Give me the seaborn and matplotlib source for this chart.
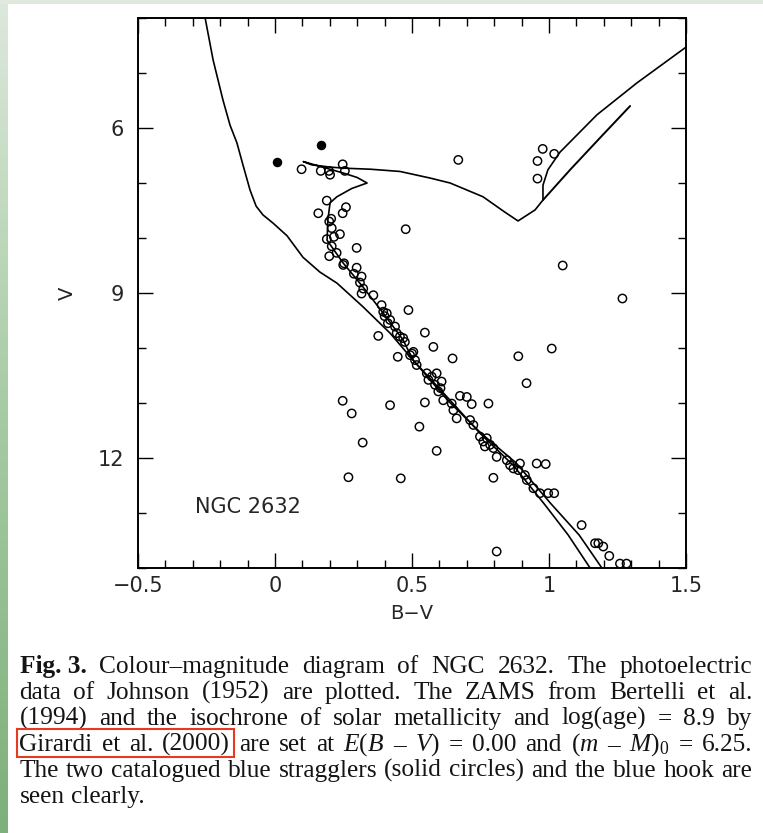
import numpy as np
import pandas as pd
import matplotlib
matplotlib.use("Agg")
import matplotlib.pyplot as plt
import seaborn as sns
from matplotlib.ticker import MultipleLocator, FixedLocator, FixedFormatter
from matplotlib.patches import Rectangle

# ---------------- data ----------------
open_bv = [0.097, 0.167, 0.197, 0.201, 0.247, 0.255, 0.189, 0.158, 0.259, 0.247,
           0.198, 0.207, 0.237, 0.189, 0.207, 0.298, 0.225, 0.198, 0.249, 0.252,
           0.298, 0.288, 0.316, 0.310, 0.322, 0.359, 0.477, 0.487, 0.547, 0.377,
           0.389, 0.408, 0.420, 0.438, 0.444, 0.468, 0.316, 0.395, 0.578, 0.448,
           0.456, 0.474, 0.505, 0.511, 0.493, 0.517, 0.648, 0.554, 0.572, 0.590,
           0.608, 0.584, 0.596, 0.614, 0.645, 0.675, 0.700, 0.718, 0.779, 0.547,
           0.420, 0.247, 0.280, 0.651, 0.663, 0.712, 0.724, 0.748, 0.773, 0.766,
           0.797, 0.809, 0.846, 0.858, 0.894, 0.870, 0.888, 0.912, 0.919, 0.955,
           0.988, 0.943, 0.967, 0.997, 1.019, 0.888, 1.010, 0.918, 1.050, 1.268,
           0.527, 0.320, 0.590, 0.268, 0.459, 0.797, 1.119, 1.168, 1.180, 1.198,
           1.220, 1.259, 1.283, 0.809, 0.669, 0.977, 1.019, 0.958, 0.958,
           0.400, 0.412, 0.500, 0.560, 0.604, 0.760, 0.785, 0.215, 0.205]
open_v = [6.75, 6.78, 6.78, 6.85, 6.66, 6.78, 7.32, 7.55, 7.44, 7.55,
          7.70, 7.82, 7.93, 8.02, 8.15, 8.18, 8.27, 8.33, 8.49, 8.46,
          8.54, 8.65, 8.70, 8.81, 8.92, 9.04, 7.84, 9.31, 9.72, 9.78,
          9.22, 9.37, 9.49, 9.61, 9.73, 9.82, 9.01, 9.34, 9.98, 10.16,
          9.79, 9.89, 10.07, 10.22, 10.13, 10.31, 10.19, 10.46, 10.52, 10.46,
          10.61, 10.67, 10.79, 10.95, 11.01, 10.87, 10.89, 11.02, 11.01, 10.99,
          11.04, 10.96, 11.19, 11.13, 11.28, 11.31, 11.40, 11.61, 11.64, 11.79,
          11.82, 11.98, 12.04, 12.13, 12.10, 12.19, 12.22, 12.31, 12.40, 12.10,
          12.11, 12.55, 12.64, 12.64, 12.64, 10.15, 10.01, 10.64, 8.50, 9.10,
          11.43, 11.72, 11.87, 12.35, 12.37, 12.36, 13.22, 13.55, 13.55, 13.61,
          13.78, 13.92, 13.92, 13.70, 6.58, 6.38, 6.47, 6.60, 6.92,
          9.42, 9.55, 10.10, 10.58, 10.73, 11.70, 11.76, 7.98, 7.65]

bss_bv = [0.167, 0.006]
bss_v = [6.31, 6.61]

zams_bv = [-0.255, -0.226, -0.190, -0.164, -0.139, -0.117, -0.091, -0.069, -0.044,
           -0.007, 0.044, 0.102, 0.164, 0.226, 0.321, 0.420, 0.504, 0.639, 0.748,
           0.869, 0.985, 1.070, 1.150]
zams_v = [4.00, 4.76, 5.49, 5.95, 6.27, 6.67, 7.13, 7.42, 7.58,
          7.73, 7.96, 8.35, 8.62, 8.82, 9.25, 9.73, 10.22, 10.95, 11.55,
          12.13, 12.85, 13.40, 14.00]

iso_bv = [1.193, 1.110, 1.005, 0.880, 0.752, 0.630, 0.504, 0.467, 0.394, 0.321,
          0.248, 0.190, 0.193, 0.201, 0.226, 0.280, 0.336, 0.300, 0.250, 0.180,
          0.103, 0.134, 0.200, 0.249, 0.350, 0.456, 0.566, 0.639, 0.759, 0.839,
          0.887, 0.949, 0.978, 0.978, 0.996, 1.040, 1.175, 1.321, 1.500]
iso_v = [14.00, 13.40, 12.82, 12.09, 11.55, 10.95, 10.22, 9.85, 9.36, 8.89,
         8.45, 8.04, 7.67, 7.36, 7.25, 7.10, 7.00, 6.90, 6.82, 6.72,
         6.61, 6.67, 6.71, 6.73, 6.75, 6.79, 6.91, 7.00, 7.25, 7.53,
         7.69, 7.49, 7.31, 7.04, 6.76, 6.44, 5.76, 5.18, 4.53]

agb_bv = [0.978, 1.077, 1.186, 1.296]
agb_v = [7.31, 6.76, 6.18, 5.60]

xtick_vals = [-0.5, 0, 0.5, 1, 1.5]
xtick_labels = ["\u22120.5", "0", "0.5", "1", "1.5"]
ytick_vals = [6, 9, 12]
ytick_labels = ["6", "9", "12"]
x_label = "B\u2212V"
y_label = "V"
cluster_label = "NGC 2632"

caption_tokens = [
    ["Fig. 3.", "Colour\u2013magnitude", "diagram", "of", "NGC", "2632.", "The", "photoelectric"],
    ["data", "of", "Johnson", "(1952)", "are", "plotted.", "The", "ZAMS", "from", "Bertelli", "et", "al."],
    ["(1994)", "and", "the", "isochrone", "of", "solar", "metallicity", "and", "log(age)", "=", "8.9", "by"],
    ["Girardi", "et", "al.", "(2000)", "are", "set", "at", "$E(B$", "\u2013", "$V)$", "=", "0.00", "and",
     "$(m$", "\u2013", "$M)_0$", "=", "6.25."],
    ["The", "two", "catalogued", "blue", "stragglers", "(solid", "circles)", "and", "the", "blue", "hook", "are"],
    ["seen", "clearly."],
]

# ---------------- style ----------------
sns.set_style("ticks")
plt.rcParams["font.family"] = ["DejaVu Sans"]
plt.rcParams["mathtext.fontset"] = "custom"
plt.rcParams["mathtext.rm"] = "Liberation Serif"
plt.rcParams["mathtext.it"] = "Liberation Serif:italic"
plt.rcParams["mathtext.bf"] = "Liberation Serif:bold"

FW, FH = 763, 833
fig = plt.figure(figsize=(FW / 100, FH / 100), dpi=100, facecolor="white")

# screenshot border (green strips)
strip_ax = fig.add_axes([0, 0, 8 / FW, 1])
stops = np.array([[221, 232, 220], [168, 204, 165], [125, 176, 122]]) / 255.0
tt = np.linspace(0, 1, 256)
grad = np.stack([np.interp(tt, [0, 0.48, 1], stops[:, c]) for c in range(3)], axis=1)
strip_ax.imshow(grad[:, None, :], aspect="auto", extent=[0, 1, 0, 1])
strip_ax.set_axis_off()
fig.patches.append(Rectangle((0, 1 - 4 / FH), 1, 4 / FH, transform=fig.transFigure,
                             facecolor="#dfe9de", edgecolor="none", zorder=0))

# ---------------- main axes ----------------
L, R, T, B = 138, 686, 18, 568
ax = fig.add_axes([L / FW, 1 - B / FH, (R - L) / FW, (B - T) / FH])
ax.set_facecolor("white")

sns.lineplot(x=zams_bv, y=zams_v, sort=False, estimator=None, color="black", lw=1.2, ax=ax)
sns.lineplot(x=iso_bv, y=iso_v, sort=False, estimator=None, color="black", lw=1.2, ax=ax)
sns.lineplot(x=agb_bv, y=agb_v, sort=False, estimator=None, color="black", lw=1.4, ax=ax)
sns.scatterplot(x=open_bv, y=open_v, marker="o", s=36, facecolor="none",
                edgecolor="black", linewidth=1.05, ax=ax, zorder=3)
sns.scatterplot(x=bss_bv, y=bss_v, marker="o", s=34, color="black",
                edgecolor="black", linewidth=1.0, ax=ax, zorder=3)

ax.set_xlim(-0.5, 1.5)
ax.set_ylim(14, 4)
ax.xaxis.set_major_locator(FixedLocator(xtick_vals))
ax.xaxis.set_major_formatter(FixedFormatter(xtick_labels))
ax.xaxis.set_minor_locator(MultipleLocator(0.1))
ax.yaxis.set_major_locator(FixedLocator(ytick_vals))
ax.yaxis.set_major_formatter(FixedFormatter(ytick_labels))
ax.yaxis.set_minor_locator(MultipleLocator(1))
ax.tick_params(which="both", direction="in", top=True, right=True, width=1.0, color="black")
ax.tick_params(which="major", length=11, labelsize=15)
ax.tick_params(which="minor", length=5.5)
ax.tick_params(axis="x", which="major", pad=6)
ax.tick_params(axis="y", which="major", pad=10)
for sp in ax.spines.values():
    sp.set_linewidth(1.4)
    sp.set_color("black")

ax.set_xlabel(x_label, fontsize=14)
ax.set_ylabel(y_label, fontsize=14)
ax.xaxis.set_label_coords(0.5, -0.066)
ax.yaxis.set_label_coords(-0.111, 0.5)
ax.text(-0.292, 12.89, cluster_label, fontsize=15, ha="left", va="center")

# ---------------- caption (justified) ----------------
CAP_FS = 18.3
TXT = "#141414"
X0, X1 = 19.5, 752.0
baselines = [673, 699, 725, 751, 777, 803]
renderer = fig.canvas.get_renderer()


def width_of(s, **kw):
    t = fig.text(0, 0, s, fontsize=CAP_FS, family="Liberation Serif", **kw)
    w = t.get_window_extent(renderer).width
    t.remove()
    return w


space_w = width_of("a b") - width_of("ab")
girardi_box = None
for i, (tokens, bl) in enumerate(zip(caption_tokens, baselines)):
    objs = []
    for tok in tokens:
        weight = "bold" if tok.startswith("Fig") else "normal"
        objs.append(fig.text(0, 1 - bl / FH, tok, fontsize=CAP_FS, family="Liberation Serif",
                             fontweight=weight, va="baseline", ha="left", color=TXT))
    widths = [o.get_window_extent(renderer).width for o in objs]
    if i < len(caption_tokens) - 1:
        gap = (X1 - X0 - sum(widths)) / (len(objs) - 1)
    else:
        gap = space_w
    x = X0
    xs = []
    for o, w in zip(objs, widths):
        o.set_x(x / FW)
        xs.append((x, x + w))
        x += w + gap
    if tokens[0] == "Girardi":
        girardi_box = (xs[0][0], xs[3][1], bl)

if girardi_box is not None:
    gx0, gx1, gbl = girardi_box
    bx0, bx1 = gx0 - 2.5, gx1 + 3.5
    by_top, by_bot = gbl - 22, gbl + 6
    fig.patches.append(Rectangle((bx0 / FW, 1 - by_bot / FH), (bx1 - bx0) / FW,
                                 (by_bot - by_top) / FH, transform=fig.transFigure,
                                 facecolor="none", edgecolor="#e43a22", linewidth=1.5, zorder=5))

fig.savefig("out.png", dpi=100, facecolor="white")
